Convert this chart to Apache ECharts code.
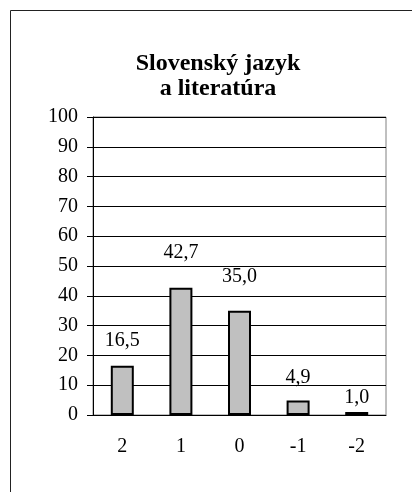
<!DOCTYPE html>
<html>
<head>
<meta charset="utf-8">
<script src="https://cdn.jsdelivr.net/npm/echarts@6/dist/echarts.min.js"></script>
<style>
  html, body { margin: 0; padding: 0; background: #fff; }
  #chart { width: 412px; height: 492px; }
</style>
</head>
<body>
<div id="chart"></div>
<script>
var chartTitle = 'Slovenský jazyk\na literatúra';
var categories = ['2', '1', '0', '-1', '-2'];
var values = [16.5, 42.7, 35.0, 4.9, 1.0];
var yTicks = [0, 10, 20, 30, 40, 50, 60, 70, 80, 90, 100];

var myChart = echarts.init(document.getElementById('chart'));
var serif = '"Liberation Serif", "DejaVu Serif", serif';

// label gaps above bars, as in the original
var labelGap = [15, 25, 24, 13, 4];

var barData = [];
for (var i = 0; i < values.length; i++) {
    barData.push({
        value: values[i],
        label: { distance: labelGap[i] }
    });
}

var option = {
    animation: false,
    backgroundColor: '#fff',
    title: {
        text: chartTitle,
        left: 213,
        top: 46,
        textAlign: 'center',
        textStyle: {
            fontFamily: serif,
            fontWeight: 'bold',
            fontSize: 24,
            lineHeight: 25,
            color: '#000'
        }
    },
    graphic: [{
        type: 'rect',
        shape: { x: 10.5, y: 10.5, width: 420, height: 500 },
        style: { fill: 'none', stroke: '#222', lineWidth: 1 },
        silent: true
    }],
    grid: {
        left: 93,
        right: 26,
        top: 117,
        bottom: 77,
        show: true,
        borderColor: '#808080',
        borderWidth: 1
    },
    xAxis: {
        type: 'category',
        data: categories,
        axisLine: { lineStyle: { color: '#000', width: 1 } },
        axisTick: { alignWithLabel: false, length: 5, lineStyle: { color: '#000' } },
        axisLabel: {
            margin: 22,
            fontFamily: serif,
            fontSize: 20,
            color: '#000'
        }
    },
    yAxis: {
        type: 'value',
        min: yTicks[0],
        max: yTicks[yTicks.length - 1],
        interval: 10,
        axisLine: { show: true, lineStyle: { color: '#000', width: 1 } },
        axisTick: { show: true, length: 6, lineStyle: { color: '#000' } },
        splitLine: { lineStyle: { color: '#000', width: 1 } },
        axisLabel: {
            margin: 15,
            fontFamily: serif,
            fontSize: 20,
            color: '#000'
        }
    },
    series: [{
        type: 'bar',
        data: barData,
        barWidth: 23,
        itemStyle: {
            color: '#c0c0c0',
            borderColor: '#000',
            borderWidth: 2
        },
        label: {
            show: true,
            position: 'top',
            fontFamily: serif,
            fontSize: 20,
            color: '#000',
            formatter: function (p) {
                return p.value.toFixed(1).replace('.', ',');
            }
        }
    }]
};

myChart.setOption(option);
</script>
</body>
</html>
